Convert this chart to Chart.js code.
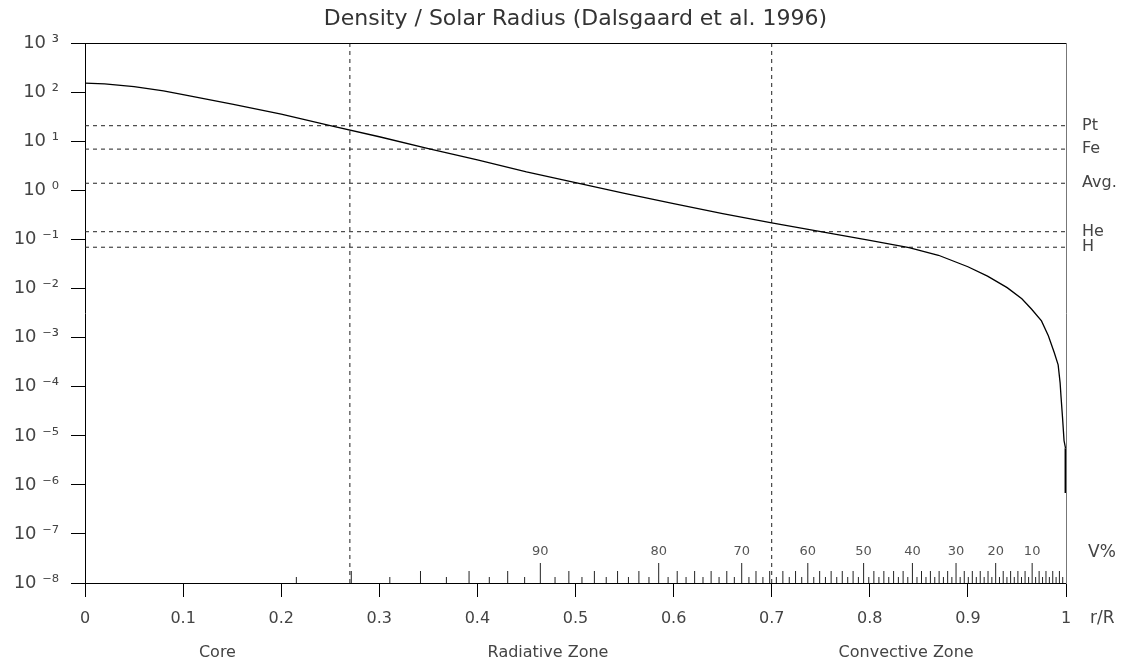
<!DOCTYPE html>
<html>
<head>
<meta charset="utf-8">
<title>Density / Solar Radius</title>
<script src="https://cdn.jsdelivr.net/npm/chart.js@4.4.1/dist/chart.umd.min.js"></script>
<style>
  html, body { margin: 0; padding: 0; background: #fff; }
  #wrap { width: 1125px; height: 663px; }
</style>
</head>
<body>
<div id="wrap"><canvas id="densityChart"></canvas></div>
<script>
// density profile (g/cm3 vs r/R)
const radius = [0, 0.02, 0.05, 0.08, 0.1, 0.15, 0.2, 0.25, 0.3, 0.35, 0.4, 0.45, 0.5, 0.55, 0.6, 0.65, 0.7,
  0.75, 0.8, 0.84, 0.87, 0.9, 0.92, 0.94, 0.955, 0.965, 0.975, 0.982, 0.988, 0.992, 0.994, 0.995, 0.9965, 0.998, 0.9995, 0.9998];
const density = [155, 150, 132, 108, 90, 58, 36, 21, 12.5, 7.2, 4.2, 2.4, 1.45, 0.88, 0.54, 0.34, 0.22,
  0.145, 0.097, 0.069, 0.048, 0.028, 0.018, 0.0105, 0.0062, 0.0038, 0.0022, 0.0011, 0.0005, 0.00028, 0.00012, 0.00006, 0.000023, 0.000008, 0.0000056, 0.0000056];
const surfaceDrop = [0.0000056, 0.00000068];

// reference densities (right side)
const refValues = [21, 7.0, 1.41, 0.145, 0.07];
const refLabels = ['Pt', 'Fe', 'Avg.', 'He', 'H'];

// zone boundaries and names
const zoneBounds = [0.27, 0.7];
const zoneCenters = [0.135, 0.472, 0.837];
const zoneLabels = ['Core', 'Radiative Zone', 'Convective Zone'];

// axis ticks
const xTicks = [0, 0.1, 0.2, 0.3, 0.4, 0.5, 0.6, 0.7, 0.8, 0.9, 1];
const yExponents = [-8, -7, -6, -5, -4, -3, -2, -1, 0, 1, 2, 3];

// volume scale: percent of volume lying outside r
const volumePercents = [];
for (let p = 1; p <= 99; p++) volumePercents.push(p);
const volumeLabels = [90, 80, 70, 60, 50, 40, 30, 20, 10];

const SUP = { '-': '\u207B', '0': '\u2070', '1': '\u00B9', '2': '\u00B2', '3': '\u00B3', '4': '\u2074',
  '5': '\u2075', '6': '\u2076', '7': '\u2077', '8': '\u2078', '9': '\u2079' };
const sup = n => String(n).split('').map(c => SUP[c]).join('');
const rOfVolume = p => Math.cbrt(1 - p / 100);

Chart.defaults.font.family = "'DejaVu Sans', Verdana, sans-serif";
Chart.defaults.color = '#444';

const dashed = { borderColor: '#222', borderWidth: 1, borderDash: [4, 4], pointRadius: 0, showLine: true };

const datasets = [
  {
    data: radius.map((r, i) => ({ x: r, y: density[i] })),
    borderColor: '#000', borderWidth: 1.3, pointRadius: 0, showLine: true, tension: 0
  },
  {
    data: surfaceDrop.map(d => ({ x: radius[radius.length - 1], y: d })),
    borderColor: '#000', borderWidth: 2.5, pointRadius: 0, showLine: true
  },
  ...refValues.map(v => ({ ...dashed, data: [{ x: 0, y: v }, { x: 1, y: v }] })),
  ...zoneBounds.map(b => ({ ...dashed, data: [{ x: b, y: 1e-8 }, { x: b, y: 1e3 }] })),
  {
    yAxisID: 'yv',
    data: volumePercents.flatMap(p => {
      const r = rOfVolume(p);
      const h = p % 10 === 0 ? 20 : (p % 2 === 0 ? 12 : 6);
      return [{ x: r, y: 0 }, { x: r, y: h }, { x: r, y: null }];
    }),
    borderColor: '#222', borderWidth: 1, pointRadius: 0, showLine: true, spanGaps: false
  }
];

// text bits that sit outside the axes: V% numbers, V%, r/R
const extraText = {
  id: 'extraText',
  afterDraw(chart) {
    const { ctx, chartArea, scales } = chart;
    ctx.save();
    ctx.fillStyle = '#555';
    ctx.textBaseline = 'middle';
    ctx.textAlign = 'center';
    ctx.font = "13px 'DejaVu Sans', Verdana, sans-serif";
    const yLab = scales.yv.getPixelForValue(31);
    volumeLabels.forEach(p => ctx.fillText(String(p), scales.x.getPixelForValue(rOfVolume(p)), yLab));
    ctx.textAlign = 'left';
    ctx.font = "17px 'DejaVu Sans', Verdana, sans-serif";
    ctx.fillStyle = '#444';
    ctx.fillText('V%', chartArea.right + 22, yLab + 1);
    ctx.fillText('r/R', chartArea.right + 24, 619);
    ctx.restore();
  }
};

new Chart(document.getElementById('densityChart'), {
  type: 'scatter',
  data: { datasets },
  options: {
    responsive: true,
    maintainAspectRatio: false,
    animation: false,
    layout: { padding: 0 },
    plugins: {
      legend: { display: false },
      tooltip: { enabled: false },
      title: {
        display: true,
        fullSize: false,
        text: 'Density / Solar Radius (Dalsgaard et al. 1996)',
        color: '#333',
        font: { size: 22, weight: 'normal' },
        padding: { top: 6, bottom: 11 }
      }
    },
    scales: {
      x: {
        type: 'linear', position: 'bottom', min: 0, max: 1, weight: 0,
        afterBuildTicks: s => { s.ticks = xTicks.map(v => ({ value: v })); },
        afterFit: s => { s.height = 50; },
        ticks: { padding: 12, font: { size: 16 }, callback: v => String(Math.round(v * 10) / 10) },
        grid: { drawOnChartArea: false, tickLength: 14, color: '#000' },
        border: { color: '#000' }
      },
      zones: {
        type: 'linear', position: 'bottom', min: 0, max: 1, weight: 1,
        afterBuildTicks: s => { s.ticks = zoneCenters.map(v => ({ value: v })); },
        afterFit: s => { s.height = 30; },
        ticks: { padding: 10, font: { size: 16 }, callback: (v, i) => zoneLabels[i] },
        grid: { display: false, drawTicks: false },
        border: { display: false }
      },
      top: {
        type: 'linear', position: 'top', min: 0, max: 1,
        afterFit: s => { s.height = 0; },
        ticks: { display: false },
        grid: { display: false, drawTicks: false },
        border: { color: '#000' }
      },
      y: {
        type: 'logarithmic', position: 'left', min: 1e-8, max: 1e3,
        afterBuildTicks: s => { s.ticks = yExponents.map(e => ({ value: Math.pow(10, e) })); },
        afterFit: s => { s.width = 85; },
        ticks: { padding: 12, font: { size: 18 }, callback: v => '10 ' + sup(Math.round(Math.log10(v))) },
        grid: { drawOnChartArea: false, tickLength: 14, color: '#000' },
        border: { color: '#000' }
      },
      yr: {
        type: 'logarithmic', position: 'right', min: 1e-8, max: 1e3,
        afterBuildTicks: s => { s.ticks = refValues.map(v => ({ value: v })); },
        afterFit: s => { s.width = 59; },
        ticks: { padding: 16, font: { size: 16 }, callback: (v, i) => refLabels[i] },
        grid: { display: false, drawTicks: false },
        border: { color: '#777' }
      },
      yv: {
        type: 'linear', display: false, min: 0, max: 540
      }
    }
  },
  plugins: [extraText]
});
</script>
</body>
</html>
